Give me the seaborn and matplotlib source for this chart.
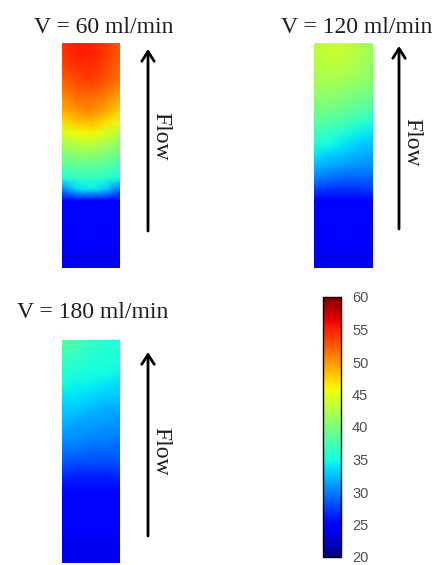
import numpy as np
import seaborn as sns
import matplotlib.pyplot as plt
from matplotlib.patches import FancyArrowPatch

sns.set_style('white')
plt.rcParams['font.family'] = ['Liberation Serif', 'DejaVu Serif']

titles = ['V = 60 ml/min', 'V = 120 ml/min', 'V = 180 ml/min']
cbar_ticks = [20, 25, 30, 35, 40, 45, 50, 55, 60]
t_min, t_max = 20, 60

# temperature read off the strips: rows top -> bottom (every 5 % of height),
# columns left -> right
temp_60 = [
    [54.0, 55.0, 55.0, 54.0, 52.5],
    [54.0, 55.0, 55.0, 54.0, 52.5],
    [53.5, 54.5, 54.5, 53.5, 52.0],
    [52.5, 53.5, 54.0, 53.0, 51.5],
    [51.5, 52.5, 53.0, 52.0, 50.5],
    [50.0, 51.5, 51.5, 50.5, 49.0],
    [49.0, 50.0, 50.5, 49.5, 47.5],
    [47.0, 48.0, 48.5, 47.0, 45.0],
    [44.5, 45.5, 46.0, 44.5, 42.5],
    [42.0, 43.0, 43.0, 42.0, 40.5],
    [40.0, 40.5, 40.5, 40.0, 39.0],
    [38.0, 38.5, 38.5, 38.0, 37.0],
    [35.5, 36.5, 36.5, 36.0, 35.0],
    [30.0, 33.5, 34.5, 33.0, 29.5],
    [24.5, 25.0, 25.0, 25.0, 24.5],
    [24.5, 24.5, 24.5, 24.5, 24.5],
    [24.5, 24.5, 24.5, 24.5, 24.5],
    [24.5, 24.5, 24.5, 24.5, 24.5],
    [24.0, 24.5, 24.5, 24.5, 24.0],
    [24.0, 24.0, 24.0, 24.0, 24.0],
    [24.0, 24.0, 24.0, 24.0, 24.0],
]
temp_120 = [
    [42.5, 43.5, 43.5, 42.5, 41.5],
    [43.0, 43.5, 43.5, 42.5, 41.5],
    [42.5, 43.0, 43.0, 42.0, 41.0],
    [42.0, 42.5, 42.0, 41.5, 40.5],
    [41.5, 41.5, 41.0, 40.5, 40.0],
    [40.5, 40.5, 40.0, 39.5, 39.0],
    [39.5, 39.5, 39.0, 38.0, 37.5],
    [38.5, 38.0, 37.5, 36.5, 35.5],
    [37.0, 36.5, 35.5, 34.5, 34.0],
    [35.5, 35.0, 34.0, 33.0, 32.5],
    [34.0, 33.0, 32.5, 32.0, 31.5],
    [32.0, 31.5, 31.0, 30.5, 30.5],
    [30.0, 29.5, 29.0, 29.0, 29.0],
    [27.5, 27.0, 27.0, 27.0, 27.5],
    [25.0, 25.0, 25.0, 25.0, 25.0],
    [24.5, 24.5, 24.5, 24.5, 24.5],
    [24.5, 24.5, 24.5, 24.5, 24.5],
    [24.5, 24.5, 24.5, 24.5, 24.5],
    [24.0, 24.5, 24.5, 24.5, 24.0],
    [24.0, 24.0, 24.0, 24.0, 24.0],
    [24.0, 24.0, 24.0, 24.0, 24.0],
]
temp_180 = [
    [38.0, 37.5, 36.5, 36.0, 35.5],
    [37.5, 37.0, 36.0, 35.5, 35.5],
    [36.5, 36.0, 35.5, 35.5, 35.0],
    [35.5, 35.5, 35.0, 35.0, 34.5],
    [35.0, 34.5, 34.5, 34.0, 33.5],
    [34.0, 34.0, 33.5, 33.0, 33.0],
    [33.0, 33.0, 32.5, 32.0, 32.0],
    [32.5, 32.0, 31.5, 31.5, 31.0],
    [31.5, 31.0, 31.0, 30.5, 30.5],
    [30.5, 30.5, 30.0, 30.0, 29.5],
    [29.5, 29.5, 29.0, 29.0, 29.0],
    [28.5, 28.0, 28.0, 28.0, 28.0],
    [27.0, 26.5, 26.5, 26.5, 27.0],
    [25.5, 25.5, 25.5, 25.5, 25.5],
    [25.0, 24.5, 24.5, 24.5, 25.0],
    [24.5, 24.5, 24.5, 24.5, 24.5],
    [24.5, 24.5, 24.5, 24.5, 24.5],
    [24.5, 24.5, 24.5, 24.5, 24.5],
    [24.0, 24.0, 24.0, 24.0, 24.0],
    [24.0, 24.0, 24.0, 24.0, 24.0],
    [24.0, 24.0, 24.0, 24.0, 24.0],
]

W, H = 438, 565
fig = plt.figure(figsize=(W / 100, H / 100), dpi=100)


def px_rect(x0, y0, x1, y1):
    # pixel box (top-left origin) -> figure fraction rect
    return [x0 / W, 1 - y1 / H, (x1 - x0) / W, (y1 - y0) / H]


strip_boxes = [(62, 43, 120, 268), (314, 43, 373, 268), (62, 340, 120, 563)]
cax = fig.add_axes(px_rect(323, 297, 341, 557))

for i, (temp, box) in enumerate(zip([temp_60, temp_120, temp_180], strip_boxes)):
    data = np.array(temp)
    ax = fig.add_axes(px_rect(*box))
    sns.heatmap(data, ax=ax, cmap='jet', vmin=t_min, vmax=t_max,
                cbar=(i == 0), cbar_ax=cax if i == 0 else None,
                cbar_kws={'ticks': cbar_ticks},
                xticklabels=False, yticklabels=False, shading='gouraud')
    ax.set_xlim(0, data.shape[1] - 1)
    ax.set_ylim(data.shape[0] - 1, 0)

cb = fig.axes[1].collections[0].colorbar
cb.outline.set_linewidth(1.0)
cb.outline.set_edgecolor('black')
cax.tick_params(axis='y', which='both', direction='in', length=3, width=0.8,
                left=True, right=True, color='black', labelcolor='#505050',
                labelsize=10.5, pad=8)
for t in cax.get_yticklabels():
    t.set_fontfamily('Liberation Sans')

# annotation layer in pixel coordinates
ov = fig.add_axes([0, 0, 1, 1], facecolor='none')
ov.set_xlim(0, W)
ov.set_ylim(H, 0)
ov.axis('off')

title_pos = [(104, 33), (357, 33), (93, 318)]
arrows = [(148, 231, 49), (399, 229, 46), (148, 536, 352)]
flow_pos = [(161, 136), (412, 142), (161, 451)]

for t, (tx, ty) in zip(titles, title_pos):
    ov.text(tx, ty, t, ha='center', va='baseline', fontsize=17, color='#1e1e1e')

for x, y0, y1 in arrows:
    ov.add_patch(FancyArrowPatch((x, y0), (x, y1),
                                 arrowstyle='->,head_length=7,head_width=4.5',
                                 mutation_scale=1, lw=2, color='black',
                                 shrinkA=0, shrinkB=0))

for fx, fy in flow_pos:
    ov.text(fx, fy, 'Flow', rotation=-90, ha='center', va='center',
            fontsize=17, color='#1e1e1e')

plt.savefig('out.png', dpi=100)
